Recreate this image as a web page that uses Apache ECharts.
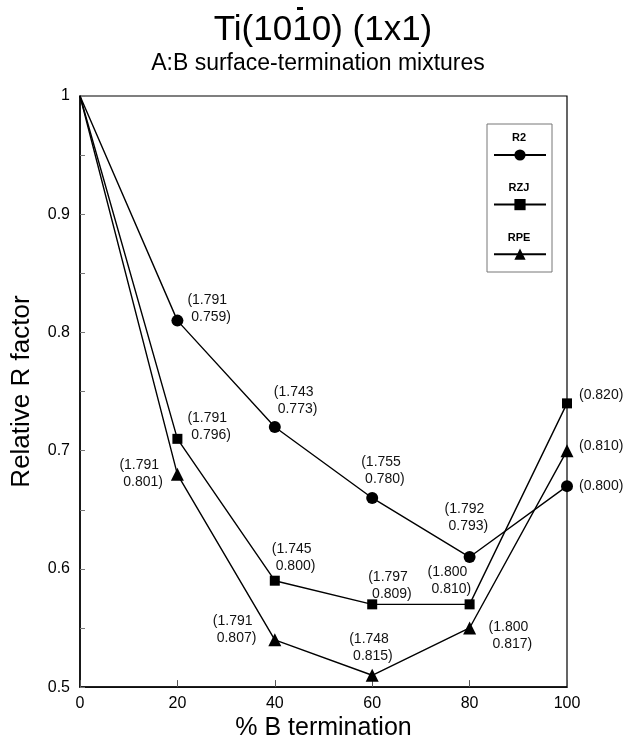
<!DOCTYPE html>
<html>
<head>
<meta charset="utf-8">
<script src="https://cdn.jsdelivr.net/npm/echarts@6/dist/echarts.min.js"></script>
<style>html,body{margin:0;padding:0;background:#fff;}#c{width:624px;height:746px;}</style>
</head>
<body>
<div id="c"></div>
<script>
const xValues = [0, 20, 40, 60, 80, 100];
const xTickLabels = ['0', '20', '40', '60', '80', '100'];
const yTickLabels = ['0.5', '0.6', '0.7', '0.8', '0.9', '1'];
const r2 = [1, 0.81, 0.72, 0.66, 0.61, 0.67];
const rzj = [1, 0.71, 0.59, 0.57, 0.57, 0.74];
const rpe = [1, 0.68, 0.54, 0.51, 0.55, 0.70];
const r2Notes = [null, '(1.791\n 0.759)', '(1.743\n 0.773)', '(1.755\n 0.780)', '(1.792\n 0.793)', '(0.800)'];
const rzjNotes = [null, '(1.791\n 0.796)', '(1.745\n 0.800)', '(1.797\n 0.809)', '(1.800\n 0.810)', '(0.820)'];
const rpeNotes = [null, '(1.791\n 0.801)', '(1.791\n 0.807)', '(1.748\n 0.815)', '(1.800\n 0.817)', '(0.810)'];
const seriesNames = ['R2', 'RZJ', 'RPE'];

// label layout (pixel offsets of note text relative to each point)
const r2Off = [null, [10, -12], [-1, -26], [-11, -27], [-25, -39], [12, 0]];
const rzjOff = [null, [10, -12], [-3, -23], [-4, -19], [-42, -24], [12, -8]];
const rpeOff = [null, [-58, -1], [-62, -10], [-23, -28], [19, 8], [12, -5]];

const FONT = 'Liberation Sans, Arial, Helvetica, sans-serif';

function build(vals, notes, offs) {
  return xValues.map((x, i) => {
    const item = { value: [x, vals[i]] };
    if (i === 0) item.symbol = 'none';
    if (notes[i]) {
      item.label = { show: true, formatter: notes[i], offset: offs[i] };
    } else {
      item.label = { show: false };
    }
    return item;
  });
}

const labelStyle = {
  position: 'inside', align: 'left', verticalAlign: 'middle',
  fontSize: 14, lineHeight: 17, color: '#111', fontFamily: FONT
};

function mkSeries(name, vals, notes, offs, symbol, size) {
  return {
    name: name, type: 'line', data: build(vals, notes, offs),
    symbol: symbol, symbolSize: size, showSymbol: true,
    lineStyle: { color: '#000', width: 1.4 },
    itemStyle: { color: '#000' },
    label: labelStyle,
    animation: false, z: 3
  };
}

const chart = echarts.init(document.getElementById('c'), null, { renderer: 'canvas' });
chart.setOption({
  backgroundColor: '#fff',
  animation: false,
  title: [
    { text: 'Ti(1010) (1x1)', left: 318, top: 8, textAlign: 'center',
      textStyle: { fontSize: 35, fontWeight: 'normal', color: '#000', fontFamily: FONT } },
    { text: 'A:B surface-termination mixtures', left: 313, top: 47, textAlign: 'center',
      textStyle: { fontSize: 23, fontWeight: 'normal', color: '#000', fontFamily: FONT } }
  ],
  grid: { left: 80, right: 57, top: 96, bottom: 57, show: true, borderColor: '#000', borderWidth: 1.2, backgroundColor: 'transparent' },
  legend: {
    data: seriesNames, orient: 'vertical', left: 493, top: 148,
    itemWidth: 52, itemHeight: 14, itemGap: 37,
    formatter: () => '', textStyle: { fontSize: 1 },
    padding: 0, selectedMode: false
  },
  graphic: [
    { type: 'rect', shape: { x: 297, y: 7, width: 6, height: 3 }, style: { fill: '#000' } },
    { type: 'rect', shape: { x: 487, y: 124, width: 65, height: 148 }, style: { fill: 'none', stroke: '#777', lineWidth: 1 }, z: 1 },
    { type: 'text', x: 519, y: 138, style: { text: seriesNames[0], align: 'center', verticalAlign: 'middle', fontSize: 11, fontWeight: 'bold', fill: '#000', fontFamily: FONT } },
    { type: 'text', x: 519, y: 188, style: { text: seriesNames[1], align: 'center', verticalAlign: 'middle', fontSize: 11, fontWeight: 'bold', fill: '#000', fontFamily: FONT } },
    { type: 'text', x: 519, y: 238, style: { text: seriesNames[2], align: 'center', verticalAlign: 'middle', fontSize: 11, fontWeight: 'bold', fill: '#000', fontFamily: FONT } }
  ],
  xAxis: {
    type: 'value', min: 0, max: 100, interval: 20,
    name: '% B termination', nameLocation: 'middle', nameGap: 27,
    nameTextStyle: { fontSize: 25, color: '#000', fontFamily: FONT },
    axisLine: { lineStyle: { color: '#000', width: 1.5 } },
    axisTick: { inside: true, length: 7, lineStyle: { color: '#555', width: 1 } },
    axisLabel: { fontSize: 16, color: '#000', margin: 8, fontFamily: FONT,
      formatter: v => xTickLabels[xValues.indexOf(v)] },
    splitLine: { show: false }
  },
  yAxis: {
    type: 'value', min: 0.5, max: 1, interval: 0.1,
    name: 'Relative R factor', nameLocation: 'middle', nameGap: 45,
    nameTextStyle: { fontSize: 26, color: '#000', fontFamily: FONT },
    axisLine: { lineStyle: { color: '#000', width: 1.5 } },
    axisTick: { inside: true, length: 5, lineStyle: { color: '#777', width: 1 } },
    minorTick: { show: true, splitNumber: 2, length: 5, lineStyle: { color: '#777', width: 1 } },
    axisLabel: { fontSize: 16, color: '#000', margin: 10, fontFamily: FONT,
      formatter: v => yTickLabels[Math.round((v - 0.5) * 10)] },
    splitLine: { show: false }
  },
  series: [
    mkSeries(seriesNames[0], r2, r2Notes, r2Off, 'circle', 12),
    mkSeries(seriesNames[1], rzj, rzjNotes, rzjOff, 'rect', 10),
    mkSeries(seriesNames[2], rpe, rpeNotes, rpeOff, 'triangle', 13)
  ]
});
</script>
</body>
</html>
